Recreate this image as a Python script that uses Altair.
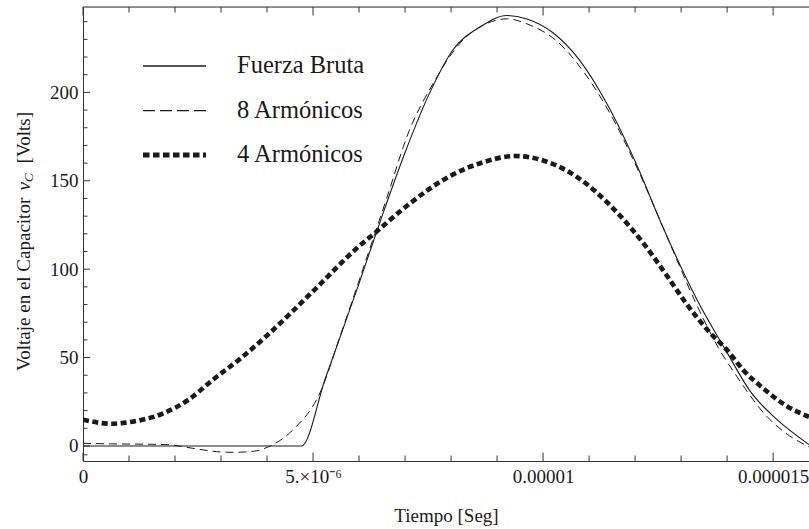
import altair as alt
import pandas as pd

# ---- data (time in microseconds, voltage in volts) ----
fb_t = [0, 4.75, 5.26, 6.0, 6.5, 7.0, 7.54, 8.04, 8.63, 9.21, 9.65, 10.2, 10.8, 11.4, 12.0, 12.6, 13.34, 14.0, 14.5, 15.08, 15.78]
fb_v = [0, 0, 37.6, 92, 130, 166, 200, 224, 237, 243.5, 241.5, 234, 218, 193, 161, 124, 83, 52.8, 31, 15, 0.8]

h8_t = [0, 0.6, 1.8, 2.43, 2.9, 3.26, 3.7, 4.07, 4.57, 5.15, 5.6, 6.2, 6.6, 7.07, 7.61, 8.2, 8.78, 9.21, 9.72, 10.3, 10.9, 11.5, 12.1, 12.7, 13.3, 13.8, 14.21, 14.86, 15.22, 15.78]
h8_v = [1.5, 1.2, 0.8, -1.5, -3.2, -3.6, -3, 0, 9.3, 30, 63, 109, 140, 177, 205, 228, 239, 241.6, 238, 229, 211, 186, 154, 118, 82, 56, 39.4, 16.8, 8.3, -0.5]

h4_t = [0, 0.61, 1.13, 1.72, 2.3, 2.83, 3.4, 4.0, 5.0, 6.0, 6.37, 7.0, 8.0, 8.7, 9.4, 10.0, 10.8, 11.5, 12.2, 12.7, 13.1, 13.63, 13.99, 14.35, 14.86, 15.3, 15.78]
h4_v = [14.9, 12.6, 14, 18.2, 26.3, 37.6, 49, 62.5, 87.5, 113, 121, 135, 153, 160.5, 164, 161.5, 151, 135, 114, 96, 81, 64, 54.5, 43, 31, 22.5, 16.5]

series_names = ["Fuerza Bruta", "8 Armónicos", "4 Armónicos"]

x_major = [0, 5e-6, 1e-5, 1.5e-5]
x_major_labels = ["0", "5.\u00d710\u207b\u2076", "0.00001", "0.000015"]
x_minor = [1e-6, 2e-6, 3e-6, 4e-6, 6e-6, 7e-6, 8e-6, 9e-6, 11e-6, 12e-6, 13e-6, 14e-6]
y_major = [0, 50, 100, 150, 200]
y_minor = [-5, 10, 20, 30, 40, 60, 70, 80, 90, 110, 120, 130, 140, 160, 170, 180, 190, 210, 220, 230, 240]

W, H = 726, 454
XDOM = [0, 15.78e-6]
YDOM = [-8.5, 248.3]
FONT = "Liberation Serif"
INK = "#1a1a1a"


def mk(ts, vs):
    return pd.DataFrame({"t": [a * 1e-6 for a in ts], "v": vs})


df_fb, df_h8, df_h4 = mk(fb_t, fb_v), mk(h8_t, h8_v), mk(h4_t, h4_v)

label_expr = " : ".join(
    [f"abs(datum.value - {v}) < 1e-7 ? '{l}'" for v, l in zip(x_major[:-1], x_major_labels[:-1])]
) + f" : '{x_major_labels[-1]}'"

xs = alt.Scale(domain=XDOM, nice=False, zero=False)
ys = alt.Scale(domain=YDOM, nice=False, zero=False)

X = alt.X("t:Q", scale=xs, axis=alt.Axis(
    values=x_major, labelExpr=label_expr, ticks=False, grid=False,
    domainColor="#333", domainWidth=1, labelFont=FONT, labelFontSize=19,
    labelColor=INK, labelPadding=6, labelFlush=False,
    title="Tiempo [Seg]", titleFont=FONT, titleFontSize=19, titleFontWeight="normal",
    titleColor=INK, titlePadding=20))
Y = alt.Y("v:Q", scale=ys, axis=alt.Axis(
    values=y_major, ticks=False, grid=False, domainColor="#333", domainWidth=1,
    labelFont=FONT, labelFontSize=19, labelColor=INK, labelPadding=5, title=None))

fb = alt.Chart(df_fb).mark_line(color=INK, strokeWidth=1.1, interpolate="monotone", clip=True).encode(x=X, y=Y)
h8 = alt.Chart(df_h8).mark_line(color=INK, strokeWidth=1.0, strokeDash=[8, 5], interpolate="monotone", clip=True).encode(x=X, y=Y)
h4 = alt.Chart(df_h4).mark_line(color=INK, strokeWidth=4.6, strokeDash=[6, 3.5], strokeCap="butt", interpolate="monotone", clip=True).encode(x=X, y=Y)

# ---- inward ticks ----
def xt(vals, y0, y1):
    return alt.Chart(pd.DataFrame({"t": vals})).mark_rule(color="#333", strokeWidth=1).encode(
        x=alt.X("t:Q", scale=xs), y=alt.value(y0), y2=alt.value(y1))


def yt(vals, x1):
    return alt.Chart(pd.DataFrame({"v": vals})).mark_rule(color="#333", strokeWidth=1).encode(
        y=alt.Y("v:Q", scale=ys), x=alt.value(0), x2=alt.value(x1))


ticks = [
    xt(x_major, H, H - 8.5), xt(x_minor, H, H - 5.5),
    xt(x_major, 0, 8.5), xt(x_minor, 0, 5.5),
    yt(y_major, 7), yt(y_minor, 4.5),
]

top_line = alt.Chart(pd.DataFrame({"a": [0]})).mark_rule(color="#333", strokeWidth=1).encode(
    x=alt.value(0), x2=alt.value(W), y=alt.value(0))

# ---- legend ----
leg_y = [59, 103.7, 148]
leg_df = pd.DataFrame({"name": series_names, "y": leg_y})
leg_lines = [
    alt.Chart(leg_df.iloc[[0]]).mark_rule(color=INK, strokeWidth=1.6).encode(
        x=alt.value(60), x2=alt.value(123), y=alt.Y("y:Q", scale=None)),
    alt.Chart(leg_df.iloc[[1]]).mark_rule(color=INK, strokeWidth=1.3, strokeDash=[12, 5]).encode(
        x=alt.value(60), x2=alt.value(123), y=alt.Y("y:Q", scale=None)),
    alt.Chart(leg_df.iloc[[2]]).mark_rule(color=INK, strokeWidth=5, strokeDash=[6.5, 3.5]).encode(
        x=alt.value(60), x2=alt.value(123), y=alt.Y("y:Q", scale=None)),
]
leg_text = alt.Chart(leg_df).mark_text(align="left", baseline="middle", font=FONT, fontSize=24.5, color=INK).encode(
    x=alt.value(154), y=alt.Y("y:Q", scale=None), text="name:N")

# ---- y axis title with subscript ----
yt_df = pd.DataFrame({"s": ["Voltaje en el Capacitor", "v", "C", "[Volts]"]})
ttl = [
    alt.Chart(yt_df.iloc[[0]]).mark_text(angle=270, align="left", baseline="middle", font=FONT, fontSize=19, color=INK).encode(
        x=alt.value(-59), y=alt.value(364), text="s:N"),
    alt.Chart(yt_df.iloc[[1]]).mark_text(angle=270, align="left", baseline="middle", font=FONT, fontSize=19, fontStyle="italic", color=INK).encode(
        x=alt.value(-59), y=alt.value(183.5), text="s:N"),
    alt.Chart(yt_df.iloc[[2]]).mark_text(angle=270, align="left", baseline="middle", font=FONT, fontSize=13, fontStyle="italic", color=INK).encode(
        x=alt.value(-54), y=alt.value(175), text="s:N"),
    alt.Chart(yt_df.iloc[[3]]).mark_text(angle=270, align="right", baseline="middle", font=FONT, fontSize=19, color=INK).encode(
        x=alt.value(-59), y=alt.value(105), text="s:N"),
]

chart = alt.layer(h4, h8, fb, *ticks, top_line, *leg_lines, leg_text, *ttl).properties(
    width=W, height=H, autosize="none",
    padding={"left": 83, "top": 7, "right": 0, "bottom": 68},
).configure_view(stroke=None).configure(background="white")

chart.save("out.html", embed_options={"renderer": "svg", "actions": False})
